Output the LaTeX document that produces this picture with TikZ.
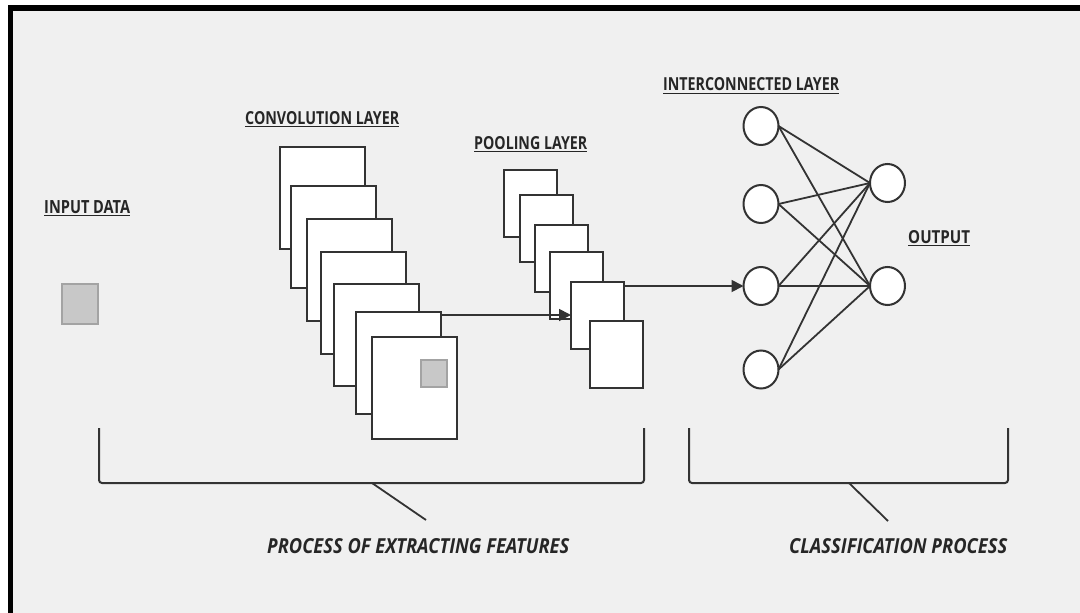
\documentclass[tikz,border=0pt]{standalone}
\usepackage{fontspec}
\setmainfont{Open Sans}
\usepackage{graphicx}
\usetikzlibrary{arrows.meta,shapes.geometric,calc}
\definecolor{bg}{HTML}{F0F0F0}
\definecolor{ink}{HTML}{333333}
\definecolor{txt}{HTML}{262626}
\definecolor{patch}{HTML}{C8C8C8}
\definecolor{patchedge}{HTML}{A3A3A3}
\newcommand{\toplbl}[2]{\resizebox{#1}{13pt}{\bfseries\underline{#2}}}
\newcommand{\botlbl}[2]{\resizebox{#1}{15pt}{\bfseries\itshape #2}}
\begin{document}
\begin{tikzpicture}[x=1pt,y=-1pt,
  fmap/.style={draw=ink, line width=2.2pt, fill=white, anchor=north west, inner sep=0pt, outer sep=0pt},
  conv/.style={fmap, minimum width=85pt, minimum height=102pt},
  pool/.style={fmap, minimum width=53pt, minimum height=67pt},
  patchbox/.style={draw=patchedge, line width=1.5pt, fill=patch, anchor=north west, inner sep=0pt, outer sep=0pt},
  neuron/.style={ellipse, draw=ink, line width=2pt, fill=white, minimum width=35pt, minimum height=38pt, inner sep=0pt, outer sep=0pt},
  link/.style={draw=ink, line width=1.8pt},
  arr/.style={draw=ink, line width=1.8pt, -{Triangle[length=12pt,width=12pt]}},
  bracket/.style={draw=ink, line width=2pt, rounded corners=3pt},
  lbl/.style={text=txt, inner sep=0pt, anchor=base west}
]
\useasboundingbox (0,0) rectangle (1080,613);
% frame
\fill[white] (0,0) rectangle (1080,613);
\fill[bg] (13,10.5) rectangle (1080,613);
\fill[black] (7.5,5) rectangle (1080,10.5);
\fill[black] (7.5,5) rectangle (13,613);

% input
\node[patchbox, minimum width=36pt, minimum height=40pt] (inp) at (62,284) {};

% convolution maps
\node[conv] (c1) at (280,147) {};
\node[conv] (c2) at (291,186) {};
\node[conv] (c3) at (307,219) {};
\node[conv] (c4) at (321,252) {};
\node[conv] (c5) at (334,284) {};
\node[conv] (c6) at (356,312) {};
\node[conv] (c7) at (372,337) {};
\node[patchbox, minimum width=26pt, minimum height=27pt] (cpatch) at (421,360) {};

% pooling maps
\node[pool] (p1) at (504,170) {};
\node[pool] (p2) at (520,195) {};
\node[pool] (p3) at (535,225) {};
\node[pool] (p4) at (550,252) {};
\node[pool] (p5) at (571,282) {};
\node[pool] (p6) at (590,321) {};

% neurons
\node[neuron] (l1) at (761,126) {};
\node[neuron] (l2) at (761,204) {};
\node[neuron] (l3) at (761,286) {};
\node[neuron] (l4) at (761,369.5) {};
\node[neuron] (r1) at (887.5,183) {};
\node[neuron] (r2) at (887.5,286) {};

\foreach \a in {l1,l2,l3,l4}{
  \foreach \b in {r1,r2}{
    \draw[link] (\a.east) -- (\b.west);
  }
}

% arrows
\draw[arr] ($(c6.north east)+(0,3)$) -- ($(p5.north west)+(0,33)$);
\draw[arr] ($(p5.north east)+(0,4)$) -- (l3.west);

% labels
\node[lbl] (tin) at (44,213) {\toplbl{86pt}{INPUT DATA}};
\node[lbl] (tconv) at (245,124) {\toplbl{154pt}{CONVOLUTION LAYER}};
\node[lbl] (tpool) at (474,149) {\toplbl{113pt}{POOLING LAYER}};
\node[lbl] (tint) at (663,90.5) {\toplbl{176pt}{INTERCONNECTED LAYER}};
\node[lbl] (tout) at (908,243) {\toplbl{62pt}{OUTPUT}};

% brackets
\draw[bracket] (99,428) -- (99,483) -- (644,483) -- (644,428);
\draw[bracket] (689,428) -- (689,483) -- (1008,483) -- (1008,428);
\coordinate (k1a) at (372,483);
\coordinate (k1b) at (426,520);
\coordinate (k2a) at (849,483);
\coordinate (k2b) at (888,521);
\draw[link] (k1a) -- (k1b);
\draw[link] (k2a) -- (k2b);

\node[lbl] (bext) at (267,553) {\botlbl{302pt}{PROCESS OF EXTRACTING FEATURES}};
\node[lbl] (bcls) at (789,553) {\botlbl{218pt}{CLASSIFICATION PROCESS}};
\end{tikzpicture}
\end{document}
